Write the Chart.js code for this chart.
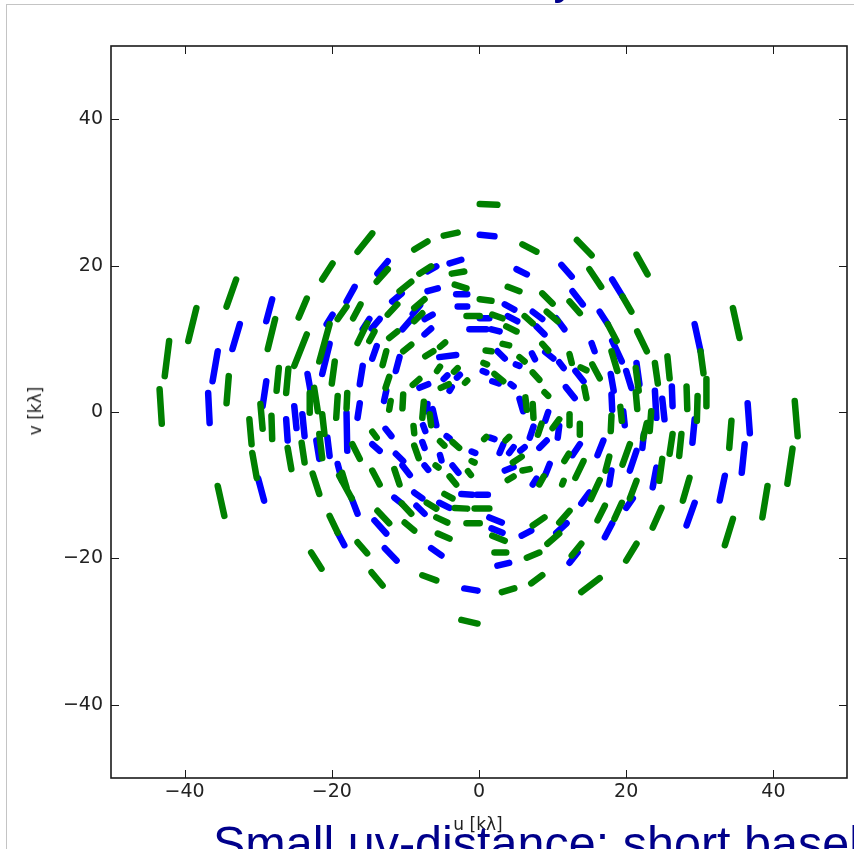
<!DOCTYPE html>
<html>
<head>
<meta charset="utf-8">
<script src="https://cdn.jsdelivr.net/npm/chart.js@4.4.0/dist/chart.umd.min.js"></script>
<style>
  body { margin: 0; background: #fff; }
  #slide { position: relative; width: 854px; height: 849px; overflow: hidden; background: #fff; }
  #edge { position: absolute; left: 6px; top: 4px; right: -2px; bottom: -2px; border-top: 1px solid #c4c4c4; border-left: 1px solid #c4c4c4; }
  #uv { position: absolute; left: 0; top: 0; }
  .axis-title { position: absolute; font: 17px "DejaVu Sans", sans-serif; color: #222; white-space: nowrap; }
  #xTitle { left: 478px; top: 824px; transform: translate(-50%, -50%); }
  #yTitle { left: 35px; top: 411px; transform: translate(-50%, -50%) rotate(-90deg); }
  .slide-text { position: absolute; font-family: "Liberation Sans", Arial, sans-serif; color: #00008b; white-space: nowrap; }
  #heading { right: 277px; top: -47.5px; font-size: 47px; line-height: 47px; }
  #caption { left: 213px; top: 818.5px; font-size: 48.5px; line-height: 48.5px; }
</style>
</head>
<body>
<div id="slide">
  <div id="edge"></div>
  <canvas id="uv" width="854" height="849"></canvas>
  <div class="axis-title" id="xTitle">u [kλ]</div>
  <div class="axis-title" id="yTitle">v [kλ]</div>
  <div class="slide-text" id="heading">An interferometer array</div>
  <div class="slide-text" id="caption">Small uv-distance: short baselines</div>
</div>
<script>
// axis settings
const axisMin = -50;
const axisMax = 50;
const tickValues = [-40, -20, 0, 20, 40];

// each track: [u start, v start, u end, v end] in kλ
const greenTracks = [
  [-16.5, 21.9, -14.5, 24.4], [-21.3, 18.1, -19.9, 20.3], [-34.3, 14.4, -33.0, 18.1],
  [-24.5, 12.9, -23.4, 15.5], [-19.2, 12.7, -18.0, 14.4], [-17.1, 12.8, -16.1, 14.7],
  [-39.5, 9.7, -38.4, 14.2], [-28.7, 8.6, -27.7, 12.7], [-25.1, 6.3, -23.4, 10.6],
  [-21.7, 6.9, -20.3, 12.0], [-16.5, 9.4, -15.2, 12.1], [0.1, 28.4, 2.5, 28.3],
  [-4.8, 24.1, -2.9, 24.5], [-8.8, 22.2, -7.0, 23.3], [5.9, 22.9, 7.8, 21.9],
  [13.3, 23.5, 15.3, 21.4], [-13.9, 17.8, -12.4, 19.5], [-8.1, 18.9, -6.5, 19.9],
  [-3.7, 18.9, -2.0, 19.2], [-3.3, 17.4, -1.7, 16.9], [3.9, 17.1, 5.5, 16.5],
  [8.6, 16.2, 10.0, 14.8], [12.3, 15.1, 13.7, 13.5], [0.1, 15.4, 1.7, 15.2],
  [3.7, 11.7, 5.1, 11.0], [-1.7, 13.1, 0.1, 13.1], [1.8, 13.3, 3.2, 12.8],
  [6.2, 13.1, 7.3, 12.1], [9.2, 13.7, 10.7, 12.4], [-10.8, 16.5, -9.2, 17.8],
  [-8.8, 14.2, -7.4, 15.4], [-12.4, 13.3, -11.1, 14.7], [-8.8, 12.4, -7.7, 13.5],
  [-12.2, 10.1, -11.1, 11.0], [-14.9, 9.7, -14.2, 11.0], [21.4, 21.5, 22.9, 18.8],
  [15.0, 19.5, 16.6, 17.1], [19.5, 15.8, 20.7, 13.7], [17.5, 12.0, 18.7, 9.7],
  [21.5, 11.0, 22.8, 8.3], [30.1, 8.3, 30.5, 5.3], [34.5, 14.2, 35.4, 10.1],
  [42.9, 1.5, 43.3, -3.3], [34.3, -1.2, 34.0, -4.9], [42.6, -5.0, 41.9, -9.8],
  [39.2, -10.1, 38.5, -14.4], [30.9, 4.5, 30.9, 0.8], [29.7, 2.2, 29.6, -1.2],
  [28.2, 3.5, 28.3, 0.4], [25.6, 7.6, 25.9, 4.6], [23.9, 6.7, 24.3, 3.9],
  [23.4, 0.1, 23.2, -2.6], [26.3, -3.0, 25.9, -5.7], [27.5, -3.0, 27.2, -6.0],
  [24.9, -6.4, 24.5, -9.4], [28.6, -9.0, 27.7, -12.1], [18.0, 8.3, 18.8, 5.6],
  [21.3, 6.0, 21.7, 2.9], [21.3, 2.7, 21.5, 0.4], [-42.7, 4.9, -42.1, 9.7],
  [-43.1, -1.6, -43.4, 3.1], [-34.3, 1.2, -34.0, 4.9], [-27.5, 2.9, -27.2, 6.0],
  [-26.2, 2.6, -25.9, 5.9], [-29.4, -2.3, -29.7, 1.1], [-30.9, -4.4, -31.2, -1.0],
  [-28.1, -3.7, -28.2, -0.5], [-30.2, -9.0, -30.8, -5.6], [-25.5, -7.8, -26.0, -4.9],
  [-23.7, -6.9, -24.1, -4.2], [-23.0, -0.1, -23.0, 2.6], [-22.4, 3.3, -21.9, 0.1],
  [-22.6, -8.4, -21.7, -11.2], [-21.3, -6.3, -21.7, -3.0], [-21.0, -3.0, -21.3, -0.3],
  [-20.0, 3.9, -19.6, 6.9], [-19.4, -0.8, -19.2, 2.2], [-18.0, 0.5, -17.9, 2.6],
  [-16.2, -6.4, -17.2, -4.4], [-18.0, -10.3, -18.6, -8.3], [-35.5, -10.1, -34.6, -14.2],
  [-20.3, -14.2, -19.2, -16.5], [-22.8, -19.2, -21.4, -21.4], [-16.5, -17.8, -15.2, -19.3],
  [-19.0, -8.7, -17.3, -11.8], [-2.4, -28.4, -0.2, -28.9], [3.1, -24.6, 4.8, -24.1],
  [7.1, -23.4, 8.6, -22.3], [-7.7, -22.3, -5.8, -23.0], [-14.6, -21.9, -13.1, -23.7],
  [-5.6, -16.6, -4.0, -17.3], [-1.7, -15.2, 0.1, -15.2], [2.1, -19.2, 3.7, -19.2],
  [1.8, -16.9, 3.5, -17.6], [6.5, -19.9, 8.2, -19.2], [7.3, -15.5, 8.9, -14.4],
  [9.3, -18.0, 10.9, -16.6], [10.9, -15.1, 12.3, -13.5], [12.6, -19.6, 13.9, -18.0],
  [13.9, -24.6, 16.4, -22.7], [-13.8, -13.5, -12.2, -15.2], [-10.5, -12.5, -9.2, -13.9],
  [-10.1, -15.1, -8.8, -16.2], [-7.1, -12.4, -5.8, -13.2], [-5.8, -14.4, -4.3, -15.1],
  [-3.3, -13.1, -1.6, -13.2], [-0.6, -13.2, 1.4, -13.2], [-4.7, -11.2, -3.6, -11.8],
  [20.0, -20.3, 21.4, -18.0], [16.1, -14.8, 17.1, -12.8], [18.4, -14.6, 19.4, -12.4],
  [20.5, -11.8, 21.4, -9.4], [23.6, -15.8, 24.8, -13.1], [33.4, -18.2, 34.5, -14.6]
];

const greenCore = [
  [-13.1, 6.4, -12.6, 8.3], [-10.3, 8.3, -9.2, 9.2], [-7.3, 7.6, -6.2, 8.3],
  [-5.3, 8.9, -4.6, 9.5], [-5.7, 5.6, -5.3, 6.2], [-3.4, 5.5, -2.9, 6.0],
  [-1.9, 4.0, -1.6, 4.3], [-9.0, 3.7, -8.1, 4.5], [-5.2, 3.3, -4.1, 3.8],
  [-12.7, 3.3, -12.2, 4.8], [-12.2, 0.3, -12.0, 1.5], [-10.4, 0.5, -10.3, 2.4],
  [-7.7, -0.8, -7.5, 1.4], [-6.7, -0.3, -6.5, -1.8], [-8.9, -1.9, -8.8, -2.9],
  [-14.5, -2.7, -13.9, -3.5], [-8.8, -4.6, -8.2, -6.3], [-5.3, -4.0, -4.7, -4.6],
  [-3.6, -4.1, -2.7, -4.9], [-1.0, -6.7, -0.6, -6.9], [-1.5, -8.1, -1.1, -8.6],
  [-5.9, -7.3, -5.5, -7.6], [-11.5, -7.8, -10.8, -9.9], [-4.0, -8.8, -3.1, -9.9],
  [-14.5, -8.0, -13.5, -9.9], [0.9, 8.4, 1.7, 8.3], [3.2, 9.3, 4.1, 9.1],
  [0.6, 6.7, 1.1, 6.5], [2.1, 5.2, 3.3, 4.2], [5.5, 7.5, 6.2, 6.9],
  [8.6, 9.3, 9.4, 8.4], [12.3, 7.9, 12.6, 6.7], [7.3, 5.4, 8.2, 4.4],
  [8.9, 2.7, 9.4, 2.2], [6.3, 2.0, 6.5, 0.3], [7.3, 1.1, 7.4, -0.8],
  [8.0, -3.1, 8.5, -1.6], [10.0, -2.2, 10.9, -1.0], [12.3, -1.8, 12.3, -0.3],
  [13.7, -3.1, 13.7, -1.6], [11.6, -6.7, 12.2, -5.7], [13.1, -9.0, 14.2, -6.7],
  [8.2, -9.9, 8.8, -8.8], [3.6, -3.9, 4.1, -3.4], [4.6, -6.9, 5.8, -6.1],
  [5.9, -8.0, 6.9, -7.8], [3.9, -9.3, 4.7, -8.8], [0.7, -3.7, 1.0, -3.4],
  [11.3, -9.9, 11.5, -9.4], [14.3, 3.4, 14.6, 1.9], [13.8, 6.1, 14.6, 5.7],
  [15.4, 6.5, 16.4, 4.6], [19.2, 0.7, 19.4, -1.2], [22.3, -3.6, 22.8, -1.5],
  [19.5, -7.2, 20.5, -4.4], [17.2, -8.0, 17.7, -6.1], [15.2, -11.9, 16.4, -9.3],
  [18.0, -0.5, 17.9, -2.6]
];

const blueTracks = [
  [-28.9, 12.4, -28.1, 15.4], [-18.0, 15.1, -16.9, 17.1], [-20.7, 12.0, -19.9, 13.3],
  [-33.5, 8.6, -32.5, 12.0], [-15.8, 11.3, -14.9, 12.7], [0.1, 24.2, 2.1, 24.0],
  [-13.8, 18.9, -12.4, 20.6], [-7.0, 19.2, -5.8, 19.9], [-4.0, 20.3, -2.4, 20.8],
  [-3.1, 16.1, -1.6, 16.1], [-2.9, 14.4, -1.6, 14.4], [5.1, 19.5, 6.5, 18.8],
  [11.2, 20.1, 12.6, 18.5], [12.7, 16.5, 14.1, 14.7], [3.5, 14.7, 4.8, 14.0],
  [3.9, 13.1, 5.2, 12.4], [0.1, 12.8, 1.4, 12.8], [-1.3, 11.3, 1.0, 11.3],
  [1.7, 11.3, 2.8, 11.0], [7.3, 13.7, 8.6, 12.7], [7.8, 11.7, 8.9, 10.6],
  [10.5, 12.8, 11.6, 11.3], [-11.8, 15.1, -10.5, 16.2], [-7.0, 16.5, -5.6, 16.9],
  [-9.0, 13.4, -8.0, 14.6], [-7.4, 12.7, -6.3, 13.3], [-10.4, 11.3, -9.2, 12.7],
  [-7.4, 10.6, -6.5, 11.4], [-14.6, 11.4, -13.5, 12.7], [18.1, 18.1, 19.5, 15.8],
  [16.4, 13.7, 17.5, 12.0], [29.3, 12.0, 30.1, 8.3], [36.5, 1.2, 36.8, -2.9],
  [36.1, -4.4, 35.7, -8.3], [33.4, -8.7, 32.7, -12.1], [29.3, -1.0, 29.0, -4.2],
  [26.2, 3.5, 26.3, 0.8], [23.9, 2.9, 24.1, -0.8], [24.9, 1.8, 25.2, -1.0],
  [24.1, -7.6, 23.6, -10.3], [18.1, 9.7, 19.4, 6.9], [21.4, 6.7, 21.8, 3.8],
  [20.0, 5.6, 20.7, 3.3], [-36.2, 4.2, -35.5, 8.3], [-36.6, -1.5, -36.8, 2.6],
  [-29.4, 0.8, -28.9, 4.2], [-30.0, -9.1, -29.2, -12.1], [-26.0, -3.9, -26.2, -1.0],
  [-24.8, -2.2, -25.1, 0.8], [-23.7, -3.3, -24.0, -0.3], [-23.3, 5.2, -22.8, 2.4],
  [-20.3, -6.0, -20.6, -3.5], [-21.7, -6.4, -22.1, -3.9], [-21.3, 5.2, -20.3, 9.3],
  [-17.9, -5.3, -18.0, -0.1], [-18.6, -9.4, -19.2, -7.1], [-16.2, 3.8, -15.8, 6.3],
  [-16.5, -0.8, -16.2, 1.2], [-19.2, -16.5, -18.3, -18.2], [-17.3, -11.8, -16.5, -13.9],
  [-2.0, -24.1, -0.2, -24.4], [-12.8, -18.6, -11.2, -20.3], [-6.5, -18.6, -5.1, -19.6],
  [2.5, -21.0, 4.1, -20.6], [1.4, -14.4, 3.1, -15.1], [1.7, -15.9, 3.2, -16.5],
  [5.8, -16.9, 7.1, -16.2], [10.5, -16.5, 11.9, -15.2], [12.3, -20.6, 13.4, -19.2],
  [13.9, -12.5, 15.0, -11.0], [-14.2, -14.8, -12.6, -16.6], [-11.5, -11.7, -10.5, -12.5],
  [-8.5, -12.8, -7.4, -13.9], [-5.4, -12.4, -4.0, -13.1], [-2.4, -11.2, -0.9, -11.3],
  [-0.3, -11.3, 1.2, -11.3], [-8.8, -11.0, -7.7, -11.8], [17.1, -17.1, 18.1, -15.2],
  [20.0, -13.1, 20.9, -11.8], [28.2, -15.5, 29.3, -12.4]
];

const blueCore = [
  [-14.5, 7.3, -13.9, 9.0], [-11.3, 5.6, -10.8, 7.5], [-5.4, 7.5, -3.1, 7.8],
  [-4.8, 4.5, -4.3, 5.0], [-3.0, 4.7, -2.6, 5.1], [-8.1, 3.3, -6.9, 3.8],
  [-4.0, 2.9, -3.7, 3.4], [-12.9, 1.5, -12.6, 2.9], [-7.1, 0.1, -7.0, 1.1],
  [-6.3, 0.4, -5.8, -1.8], [-7.6, -1.8, -7.3, -2.6], [-12.7, -2.3, -11.9, -3.3],
  [-14.5, -4.4, -13.5, -5.3], [-7.7, -4.1, -7.4, -4.9], [-4.4, -3.3, -4.0, -3.6],
  [-1.0, -5.4, -0.5, -5.6], [-3.6, -7.3, -2.8, -8.3], [-7.4, -7.3, -6.9, -7.9],
  [-5.3, -5.9, -5.1, -6.6], [-10.4, -7.3, -9.4, -8.6], [-11.3, -5.7, -10.3, -6.7],
  [2.5, 8.3, 3.5, 7.3], [0.5, 5.6, 1.0, 5.4], [1.8, 4.2, 2.7, 3.9],
  [4.3, 3.8, 4.7, 3.5], [5.0, 6.5, 5.5, 6.3], [7.2, 8.0, 7.6, 7.2],
  [9.0, 8.2, 10.1, 7.3], [10.9, 6.8, 11.5, 6.0], [13.1, 5.6, 14.2, 4.2],
  [11.8, 3.4, 13.0, 1.9], [5.5, 1.8, 6.0, 0.1], [9.0, -1.2, 9.4, 0.0],
  [6.9, -3.5, 7.4, -2.0], [10.7, -3.5, 10.9, -1.9], [8.2, -4.9, 9.2, -3.9],
  [12.7, -5.9, 13.7, -4.4], [9.0, -8.6, 9.6, -7.1], [1.5, -3.5, 2.1, -3.7],
  [2.8, -5.6, 3.3, -4.4], [3.5, -8.0, 4.7, -7.5], [4.1, -5.6, 4.7, -4.8],
  [5.6, -5.3, 6.2, -4.8], [7.3, -9.9, 7.8, -9.1], [15.3, 9.4, 15.7, 8.3],
  [17.9, 5.2, 18.3, 2.9], [18.0, 2.4, 18.1, 0.3], [19.6, 0.1, 19.8, -1.8],
  [22.2, -4.9, 22.4, -3.0], [20.5, -8.0, 21.4, -5.3], [16.1, -5.9, 16.9, -3.9],
  [17.7, -9.9, 18.0, -8.0]
];

const GREEN = '#008000';
const BLUE = '#0000ff';

function trackDataset(t, color, order) {
  return {
    data: [{ x: t[0], y: t[1] }, { x: t[2], y: t[3] }],
    showLine: true,
    borderColor: color,
    backgroundColor: color,
    borderWidth: 6.5,
    borderCapStyle: 'round',
    borderJoinStyle: 'round',
    pointRadius: 0,
    pointHoverRadius: 0,
    tension: 0,
    order: order
  };
}

const datasets = [
  ...blueTracks.map(t => trackDataset(t, BLUE, 1)),
  ...blueCore.map(t => trackDataset(t, BLUE, 1)),
  ...greenTracks.map(t => trackDataset(t, GREEN, 0)),
  ...greenCore.map(t => trackDataset(t, GREEN, 0))
];

const minusLabel = v => (v < 0 ? '\u2212' + Math.abs(v) : String(v));

// box around the plot with inward tick marks on all four sides
const frame = {
  id: 'frame',
  afterDraw(chart) {
    const { ctx, chartArea: a, scales: { x, y } } = chart;
    ctx.save();
    ctx.strokeStyle = '#1a1a1a';
    ctx.lineWidth = 1;
    ctx.beginPath();
    tickValues.forEach(v => {
      const px = Math.round(x.getPixelForValue(v)) + 0.5;
      const py = Math.round(y.getPixelForValue(v)) + 0.5;
      ctx.moveTo(px, a.bottom); ctx.lineTo(px, a.bottom - 8);
      ctx.moveTo(px, a.top); ctx.lineTo(px, a.top + 8);
      ctx.moveTo(a.left, py); ctx.lineTo(a.left + 8, py);
      ctx.moveTo(a.right, py); ctx.lineTo(a.right - 8, py);
    });
    ctx.stroke();
    ctx.lineWidth = 1.6;
    ctx.strokeRect(a.left, a.top, a.right - a.left, a.bottom - a.top);
    ctx.restore();
  }
};

const tickFont = { family: '"DejaVu Sans", sans-serif', size: 19 };

new Chart(document.getElementById('uv'), {
  type: 'scatter',
  data: { datasets },
  options: {
    responsive: false,
    animation: false,
    events: [],
    layout: { padding: { left: 0, right: 7, top: 46, bottom: 0 } },
    plugins: { legend: { display: false }, tooltip: { enabled: false } },
    scales: {
      x: {
        type: 'linear',
        min: axisMin,
        max: axisMax,
        afterBuildTicks: s => { s.ticks = tickValues.map(v => ({ value: v })); },
        afterFit: s => { s.height = 71; },
        grid: { display: false, drawTicks: false },
        border: { display: false },
        ticks: { callback: minusLabel, font: tickFont, color: '#222', padding: 3, maxRotation: 0 }
      },
      y: {
        type: 'linear',
        min: axisMin,
        max: axisMax,
        afterBuildTicks: s => { s.ticks = tickValues.map(v => ({ value: v })); },
        afterFit: s => { s.width = 111; },
        grid: { display: false, drawTicks: false },
        border: { display: false },
        ticks: { callback: minusLabel, font: tickFont, color: '#222', padding: 8 }
      }
    }
  },
  plugins: [frame]
});
</script>
</body>
</html>
